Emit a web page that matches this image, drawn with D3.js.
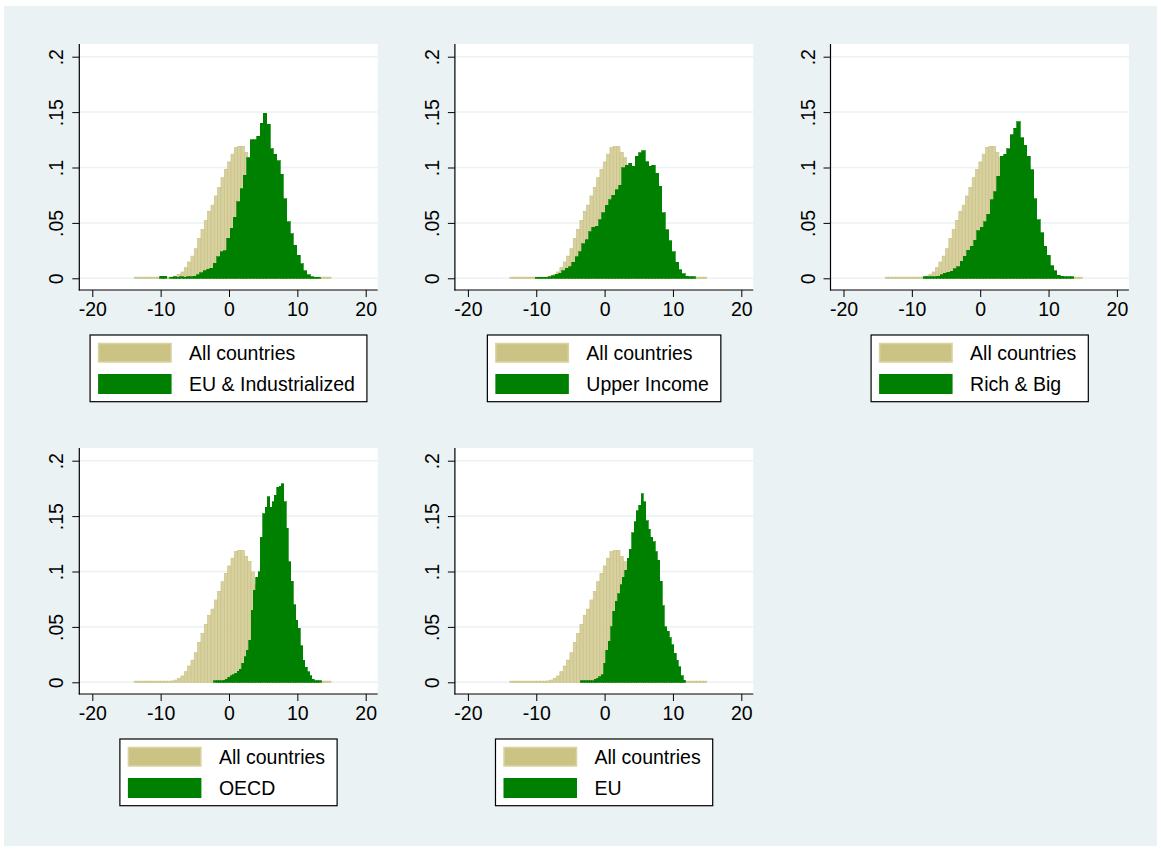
<!DOCTYPE html>
<html>
<head>
<meta charset="utf-8">
<script src="https://d3js.org/d3.v7.min.js"></script>
<style>
  body { margin: 0; background: #fff; }
  svg { display: block; font-family: Arial, "Liberation Sans", sans-serif; }
</style>
</head>
<body>
<svg width="1161" height="850"></svg>
<script>
// histogram densities (bin start + bin width + heights)
var wideBin = 0.488, narrowBin = 0.342;

var allStart = -13.86;
var allDensity = [.001,.001,.001,.001,.001,.001,.001,.001,.001,.001,.001,.0012,
    .002,.0036,.0057,.0096,.0147,.020,.0267,.036,.044,.0523,.0605,.066,.0743,.082,
    .0908,.0983,.105,.112,.118,.119,.119,.1137,.109,.0995,.088,.077,.066,.056,.047,
    .038,.030,.023,.017,.012,.008,.0055,.004,.003,.002,
    .001,.001,.001,.001,.001,.001,.001,.001];

var euIndStart = -10.1;
var euIndDensity = [.002,.002,0,.001,.0015,.001,.0015,.001,.0015,
    .0015,.002,.003,.005,.007,.008,.009,.0135,.0195,.024,
    .025,.036,.045,.055,.069,.081,.093,.109,.125,.125,
    .128,.140,.149,.139,.117,.112,.106,.094,.072,.051,
    .040,.030,.021,.013,.007,.003,.0015,.001,.001];

var upperStart = -10.15;
var upperDensity = [.001,.001,.001,.001,
    .0015,.0024,.0036,.0045,.007,.009,.0105,.0145,.0196,.024,
    .031,.035,.042,.046,.047,.053,.059,.066,.071,.075,
    .080,.084,.100,.102,.104,.101,.110,.1135,.115,.105,
    .101,.102,.095,.083,.059,.044,.034,.024,.0145,.0075,
    .004,.002,.0015,.0015];

var richStart = -8.3;
var richDensity = [.0015,.0015,.0015,.0015,.002,.003,.0045,.0055,.0065,.0085,
    .0105,.0155,.020,.0255,.029,.0345,.043,.046,.051,.058,
    .071,.078,.092,.110,.112,.117,.1295,.1355,.1415,.127,
    .120,.110,.098,.072,.053,.041,.029,.021,.0115,.007,
    .0027,.002,.0015,.0015,.0015];

var oecdStart = -2.24;
var oecdDensity = [.0015,.0015,.0015,.0015,.002,.0027,.0045,.006,.0066,.008,
    .010,.012,.017,.023,.029,.038,.065,.083,.095,.100,
    .131,.152,.158,.1675,.158,.163,.169,.176,.177,.179,
    .163,.139,.109,.091,.070,.056,.049,.033,.020,.0135,
    .0096,.0057,.0027,.0015,.0015,.0015];

var euStart = -3.56;
var euDensity = [.0012,.0012,.0012,.0012,.0012,.0012,.0027,.0036,.005,.0066,
    .017,.029,.037,.050,.064,.073,.080,.088,.095,.101,
    .112,.120,.135,.145,.155,.160,.170,.163,.146,.138,
    .131,.127,.118,.110,.091,.069,.050,.046,.040,.034,
    .026,.020,.014,.0057,.002];

var allLabel = "All countries";
var groupLabels = ["EU & Industrialized", "Upper Income", "Rich & Big", "OECD", "EU"];
var groupStarts = [euIndStart, upperStart, richStart, oecdStart, euStart];
var groupWidths = [wideBin, wideBin, wideBin, narrowBin, narrowBin];
var groupDensities = [euIndDensity, upperDensity, richDensity, oecdDensity, euDensity];

var xTicks = [-20, -10, 0, 10, 20];
var yTicks = [0, .05, .1, .15, .2];
var yTickLabels = ["0", ".05", ".1", ".15", ".2"];

var svg = d3.select("svg");
var bgColor = "#eaf2f3",
    khakiFill = "#d7d0a0",
    khakiLine = "#cbc383",
    green = "#008000";

svg.append("rect")
    .attr("x", 4).attr("y", 6)
    .attr("width", 1153).attr("height", 840)
    .attr("fill", bgColor);

function toBins(start, w, dens) {
    return dens.map(function(d, i) { return { x0: start + i * w, x1: start + (i + 1) * w, y: d }; });
}

var allBins = toBins(allStart, wideBin, allDensity);

groupLabels.forEach(function(label, i) {
    var ox = (i % 3) * 375.6,
        oy = Math.floor(i / 3) * 404;
    var left = 79.3 + ox, right = 377.7 + ox,
        top = 44 + oy, bottom = 290 + oy;

    var x = d3.scaleLinear().domain([-20, 20]).range([92.3 + ox, 365.7 + ox]);
    var y = d3.scaleLinear().domain([0, .2]).range([278.3 + oy, 56.7 + oy]);

    var g = svg.append("g");

    g.append("rect")
        .attr("x", left).attr("y", top)
        .attr("width", right - left).attr("height", bottom - top)
        .attr("fill", "#fff");

    g.selectAll(".grid")
        .data(yTicks)
        .enter().append("line")
        .attr("class", "grid")
        .attr("x1", left).attr("x2", right)
        .attr("y1", function(d) { return y(d); })
        .attr("y2", function(d) { return y(d); })
        .attr("stroke", bgColor)
        .attr("stroke-width", 1.5);

    g.selectAll(".allbar")
        .data(allBins)
        .enter().append("rect")
        .attr("class", "allbar")
        .attr("x", function(d) { return x(d.x0); })
        .attr("width", function(d) { return x(d.x1) - x(d.x0); })
        .attr("y", function(d) { return y(d.y); })
        .attr("height", function(d) { return y(0) - y(d.y); })
        .attr("fill", khakiFill)
        .attr("stroke", khakiLine)
        .attr("stroke-width", 0.7);

    var bins = toBins(groupStarts[i], groupWidths[i], groupDensities[i]).filter(function(d) { return d.y > 0; });
    g.selectAll(".grpbar")
        .data(bins)
        .enter().append("rect")
        .attr("class", "grpbar")
        .attr("x", function(d) { return x(d.x0); })
        .attr("width", function(d) { return x(d.x1) - x(d.x0); })
        .attr("y", function(d) { return y(d.y); })
        .attr("height", function(d) { return y(0) - y(d.y); })
        .attr("fill", green)
        .attr("stroke", green)
        .attr("stroke-width", 0.7)
        .attr("shape-rendering", "crispEdges");

    // axes
    var yAxis = g.append("g")
        .attr("transform", "translate(" + left + ",0)")
        .call(d3.axisLeft(y).tickValues(yTicks).tickSize(7)
            .tickFormat(function(d, j) { return yTickLabels[j]; }));
    yAxis.select(".domain").remove();
    yAxis.selectAll("text")
        .attr("x", 0).attr("y", 0).attr("dy", null)
        .attr("text-anchor", "middle")
        .attr("transform", "translate(-16,0) rotate(-90)");

    var xAxis = g.append("g")
        .attr("transform", "translate(0," + bottom + ")")
        .call(d3.axisBottom(x).tickValues(xTicks).tickSize(7)
            .tickFormat(function(d) { return String(d); }));
    xAxis.select(".domain").remove();
    xAxis.selectAll("text").attr("y", 26).attr("dy", null);

    [yAxis, xAxis].forEach(function(a) {
        a.selectAll("text").attr("font-size", 19.5).attr("fill", "#000")
            .attr("font-family", "Arial, 'Liberation Sans', sans-serif");
        a.selectAll("line").attr("stroke", "#000");
    });

    g.append("line")
        .attr("x1", left).attr("x2", left).attr("y1", top).attr("y2", bottom + 0.5)
        .attr("stroke", "#000").attr("stroke-width", 1.2);
    g.append("line")
        .attr("x1", left - 0.5).attr("x2", right).attr("y1", bottom).attr("y2", bottom)
        .attr("stroke", "#000").attr("stroke-width", 1.2);

    // legend
    var lg = g.append("g");
    var box = lg.append("rect")
        .attr("y", 335 + oy).attr("height", 66.7)
        .attr("fill", "#fff").attr("stroke", "#000").attr("stroke-width", 1.2);
    var names = [allLabel, label];
    var texts = lg.selectAll("text")
        .data(names)
        .enter().append("text")
        .attr("font-size", 19.5)
        .attr("fill", "#000")
        .text(function(d) { return d; });
    var maxLen = d3.max(texts.nodes(), function(n) { return n.getComputedTextLength(); });
    var boxW = 99 + maxLen + 12,
        bx = (left + right) / 2 - boxW / 2,
        by = 335 + oy;
    box.attr("x", bx).attr("width", boxW);
    texts.attr("x", bx + 99)
        .attr("y", function(d, j) { return by + (j === 0 ? 25 : 55.7); });
    lg.append("rect")
        .attr("x", bx + 8.5).attr("y", by + 8.5)
        .attr("width", 72.5).attr("height", 18.5)
        .attr("fill", "#cbc383").attr("stroke", "#d9d3a4").attr("stroke-width", 1.5);
    lg.append("rect")
        .attr("x", bx + 8).attr("y", by + 39)
        .attr("width", 73.5).attr("height", 20)
        .attr("fill", green);
});
</script>
</body>
</html>
